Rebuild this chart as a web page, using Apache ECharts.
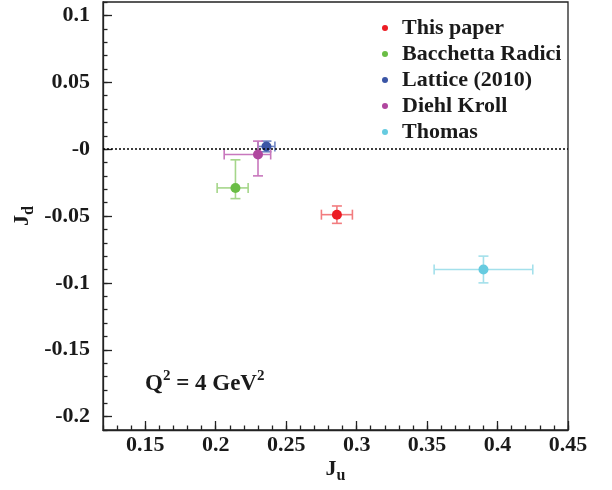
<!DOCTYPE html>
<html>
<head>
<meta charset="utf-8">
<script src="https://cdn.jsdelivr.net/npm/echarts@6/dist/echarts.min.js"></script>
<style>
  html, body { margin: 0; padding: 0; background: #fff; }
  #chart { width: 612px; height: 490px; }
</style>
</head>
<body>
<div id="chart"></div>
<script>
// 数据
const seriesNames = ['This paper', 'Bacchetta Radici', 'Lattice (2010)', 'Diehl Kroll', 'Thomas'];
const juValues = [0.286, 0.214, 0.236, 0.230, 0.390];
const jdValues = [-0.049, -0.029, 0.002, -0.004, -0.090];
const juErrLow = [0.011, 0.013, 0.006, 0.024, 0.035];
const juErrHigh = [0.011, 0.009, 0.006, 0.009, 0.035];
const jdErrLow = [0.0065, 0.008, 0.004, 0.016, 0.010];
const jdErrHigh = [0.0065, 0.021, 0.004, 0.010, 0.010];

const xTickValues = [0.15, 0.2, 0.25, 0.3, 0.35, 0.4, 0.45];
const xTickLabels = ['0.15', '0.2', '0.25', '0.3', '0.35', '0.4', '0.45'];
const yTickValues = [-0.2, -0.15, -0.1, -0.05, 0, 0.05, 0.1];
const yTickLabels = ['-0.2', '-0.15', '-0.1', '-0.05', '-0', '0.05', '0.1'];

const markerColors = ['#ec1c24', '#6abd45', '#3a55a5', '#b0479f', '#66cbe0'];
const barColors = ['#f27c7f', '#a5d68a', '#6f84c2', '#c877bd', '#a3e0eb'];

(function () {
  const myChart = echarts.init(document.getElementById('chart'));
  const FONT = '"Liberation Serif", "Times New Roman", serif';
  const TXT = '#1a1a1a';

  function pickLabel(values, labels) {
    return function (v) {
      for (let i = 0; i < values.length; i++) {
        if (Math.abs(values[i] - v) < 1e-7) return labels[i];
      }
      return '';
    };
  }

  // 误差棒 + 点
  function makeSeries(i) {
    return {
      name: seriesNames[i],
      type: 'custom',
      xAxisIndex: 0,
      yAxisIndex: 0,
      itemStyle: { color: markerColors[i] },
      encode: { x: 0, y: 1 },
      data: [[juValues[i], jdValues[i], juErrLow[i], juErrHigh[i], jdErrLow[i], jdErrHigh[i]]],
      renderItem: function (params, api) {
        const x = api.value(0), y = api.value(1);
        const c = api.coord([x, y]);
        const l = api.coord([x - api.value(2), y]);
        const r = api.coord([x + api.value(3), y]);
        const b = api.coord([x, y - api.value(4)]);
        const t = api.coord([x, y + api.value(5)]);
        const cap = 5;
        const ls = { stroke: barColors[i], lineWidth: 1.6 };
        return {
          type: 'group',
          children: [
            { type: 'line', shape: { x1: l[0], y1: c[1], x2: r[0], y2: c[1] }, style: ls },
            { type: 'line', shape: { x1: c[0], y1: t[1], x2: c[0], y2: b[1] }, style: ls },
            { type: 'line', shape: { x1: l[0], y1: c[1] - cap, x2: l[0], y2: c[1] + cap }, style: ls },
            { type: 'line', shape: { x1: r[0], y1: c[1] - cap, x2: r[0], y2: c[1] + cap }, style: ls },
            { type: 'line', shape: { x1: c[0] - cap, y1: t[1], x2: c[0] + cap, y2: t[1] }, style: ls },
            { type: 'line', shape: { x1: c[0] - cap, y1: b[1], x2: c[0] + cap, y2: b[1] }, style: ls },
            { type: 'circle', shape: { cx: c[0], cy: c[1], r: 5 }, style: { fill: markerColors[i] } }
          ]
        };
      }
    };
  }

  const series = seriesNames.map(function (n, i) { return makeSeries(i); });
  // 零线
  series[0].markLine = {
    silent: true,
    symbol: 'none',
    label: { show: false },
    lineStyle: { color: '#000', type: [2, 2], width: 1.5 },
    data: [{ yAxis: 0 }]
  };

  const axisLineStyle = { color: '#222', width: 1.3 };
  const labelStyle = { fontFamily: FONT, fontSize: 22, fontWeight: 'bold', color: TXT };
  const nameRich = {
    a: { fontFamily: FONT, fontSize: 22, fontWeight: 'bold', color: TXT, lineHeight: 30 },
    b: { fontFamily: FONT, fontSize: 16, fontWeight: 'bold', color: TXT, lineHeight: 16, verticalAlign: 'bottom' }
  };

  const option = {
    animation: false,
    backgroundColor: '#fff',
    color: markerColors,
    grid: {
      left: 103, right: 44, top: 2, bottom: 60,
      show: true, borderColor: '#222', borderWidth: 1.3
    },
    legend: {
      orient: 'vertical',
      left: 377,
      top: 12,
      icon: 'circle',
      itemWidth: 24,
      itemHeight: 6,
      itemGap: 4,
      selectedMode: false,
      data: seriesNames,
      textStyle: { fontFamily: FONT, fontSize: 22, fontWeight: 'bold', color: TXT, lineHeight: 22 }
    },
    xAxis: [
      {
        type: 'value', min: 0.12, max: 0.45, interval: 0.01, position: 'bottom',
        name: '{a|J}{b|u}', nameLocation: 'middle', nameGap: 24,
        nameTextStyle: { rich: nameRich },
        axisLine: { show: true, onZero: false, lineStyle: axisLineStyle },
        axisTick: { show: true, inside: true, length: 4.5, lineStyle: axisLineStyle },
        axisLabel: { show: false },
        splitLine: { show: false }
      },
      {
        type: 'value', min: 0.12, max: 0.45, interval: 0.01, position: 'bottom',
        axisLine: { show: false, onZero: false },
        axisTick: { show: true, inside: true, length: 9, customValues: xTickValues, lineStyle: axisLineStyle },
        axisLabel: Object.assign({ margin: 4, customValues: xTickValues, formatter: pickLabel(xTickValues, xTickLabels) }, labelStyle),
        splitLine: { show: false }
      }
    ],
    yAxis: [
      {
        type: 'value', min: -0.21, max: 0.11, interval: 0.01, position: 'left',
        name: '{a|J}{b|d}', nameLocation: 'middle', nameGap: 66, nameRotate: 90,
        nameTextStyle: { rich: nameRich },
        axisLine: { show: true, onZero: false, lineStyle: axisLineStyle },
        axisTick: { show: true, inside: true, length: 4.5, lineStyle: axisLineStyle },
        axisLabel: { show: false },
        splitLine: { show: false }
      },
      {
        type: 'value', min: -0.21, max: 0.11, interval: 0.01, position: 'left',
        axisLine: { show: false, onZero: false },
        axisTick: { show: true, inside: true, length: 9, customValues: yTickValues, lineStyle: axisLineStyle },
        axisLabel: Object.assign({ margin: 13, customValues: yTickValues, formatter: pickLabel(yTickValues, yTickLabels) }, labelStyle),
        splitLine: { show: false }
      }
    ],
    graphic: [
      {
        type: 'text',
        left: 145,
        top: 369,
        style: {
          text: '{a|Q}{s|2}{a| = 4 GeV}{s|2}',
          rich: {
            a: { fontFamily: FONT, fontSize: 23, fontWeight: 'bold', fill: TXT, lineHeight: 30 },
            s: { fontFamily: FONT, fontSize: 15, fontWeight: 'bold', fill: TXT, lineHeight: 15, verticalAlign: 'top' }
          }
        }
      }
    ],
    series: series
  };

  myChart.setOption(option);

  window.addEventListener('resize', function () {
    myChart.resize();
  });
})();
</script>
</body>
</html>
